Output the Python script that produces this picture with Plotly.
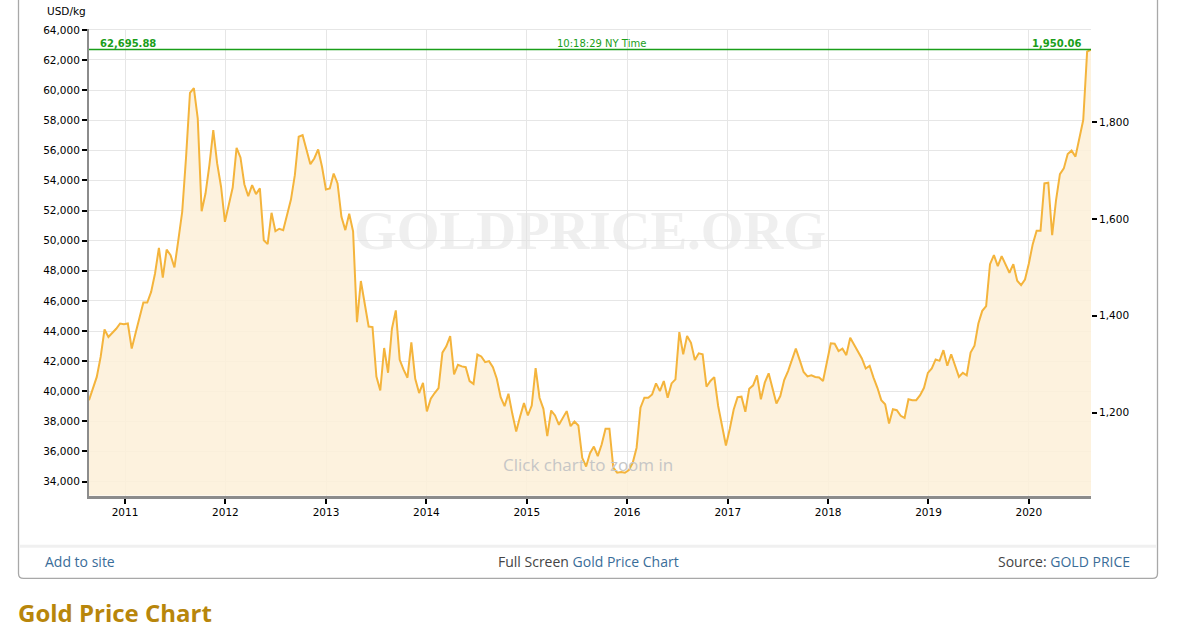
import pandas as pd
import plotly.graph_objects as go

# ---------------- data ----------------
start_date = "2010-08-23"
end_date = "2020-08-14"

price_usd_kg = [
    39400, 40170, 40950, 42280, 44100, 43600, 43870, 44150, 44500, 44450,
    44500, 42830, 43870, 44980, 45890, 45890, 46600, 47820, 49520, 47550,
    49410, 49040, 48220, 50030, 51920, 55570, 59820, 60130, 58120, 51960,
    53130, 55020, 57340, 55130, 53580, 51250, 52470, 53530, 56170, 55530,
    53750, 52960, 53690, 53090, 53470, 50030, 49770, 51850, 50630, 50790,
    50700, 51760, 52730, 54350, 56900, 57010, 56120, 55080, 55460, 56060,
    54910, 53400, 53470, 54460, 53800, 51580, 50700,
    51790, 50620, 44590, 47320, 45810, 44300, 44260, 40980, 40050, 42870,
    41230, 44150, 45370, 42090, 41430, 40900, 43240, 40830, 39880, 40560,
    38660, 39500, 39880, 40210, 42560, 42980, 43660, 41120, 41760, 41650,
    41600, 40670, 40490, 42440, 42310, 41930, 42000, 41600, 40830, 39610,
    39010, 39830, 38500, 37330, 38320, 39210, 38390, 39050, 41540, 39570,
    38830, 37020, 38720, 38390, 37770, 38210, 38680, 37680, 37990, 37730,
    35580, 35000, 35890, 36330,
    35690, 36460, 37510, 37510, 34920, 34590, 34630, 34590, 34760, 35250,
    36250, 38910, 39570, 39570, 39790, 40520, 40010, 40680, 39570, 40520,
    40790, 43930, 42450, 43670, 43220, 42070, 42520, 42450, 40300, 40680,
    40940, 39020, 37580, 36400, 37510, 38790, 39610, 39640, 38640, 40170,
    40390, 41050, 39460, 40570, 41190, 40120, 39190, 39680, 40740, 41340,
    42120, 42830, 42070, 41280, 40990, 41060, 40950, 40910, 40680, 42050,
    43180, 43160, 42670, 42830,
    42400, 43550, 43060, 42570, 42180, 41510, 41690, 40910, 40230, 39410,
    39140, 37860, 38810, 38740, 38370, 38230, 39470, 39410, 39410, 39740,
    40230, 41220, 41510, 42110, 42020, 42730, 41690, 42460, 41670, 40960,
    41220, 41050, 42570, 43020, 44500, 45340, 45650, 48440, 49040, 48310,
    48970, 48420, 47870, 48440, 47340, 47050, 47420, 48490, 49770, 50660,
    50660, 53800, 53850, 50370, 52700, 54420, 54800, 55750, 55980, 55580,
    56910, 58010, 62550, 62695.88,
]

last_price_kg = 62695.88
last_price_oz = 1950.06
ny_time = "10:18:29 NY Time"
oz_per_kg = 32.1507  # troy ounces per kg

left_ticks = list(range(34000, 64001, 2000))
right_ticks = [1200, 1400, 1600, 1800]
year_ticks = [f"{y}-01-01" for y in range(2011, 2021)]
year_labels = [str(y) for y in range(2011, 2021)]

dates = pd.date_range(start_date, end_date, periods=len(price_usd_kg))
price_usd_oz = [v / oz_per_kg for v in price_usd_kg]

# ---------------- layout helpers ----------------
W, H = 1184, 633


def px(x):
    return x / W


def py(y):
    return 1 - y / H


plot_l, plot_r, plot_t, plot_b = 89, 1091, 24, 494.5
y_lo, y_hi = 33070, 64070

line_color = "#f4b43c"
fill_color = "rgba(253,240,216,0.85)"
green = "#1a9e1a"
blue = "#3a6d99"
dark = "#444444"
tick_font = dict(family="DejaVu Sans", size=10.5, color="#000000")

fig = go.Figure()
fig.add_trace(go.Scatter(
    x=dates, y=price_usd_kg, mode="lines",
    line=dict(color=line_color, width=2),
    fill="tozeroy", fillcolor=fill_color,
    hovertemplate="%{x|%b %d, %Y}<br>%{y:,.2f} USD/kg<extra></extra>",
))
fig.add_trace(go.Scatter(
    x=dates, y=price_usd_oz, mode="lines", yaxis="y2",
    line=dict(width=0, color="rgba(0,0,0,0)"), hoverinfo="skip", showlegend=False,
))

fig.update_layout(
    width=W, height=H,
    margin=dict(l=0, r=0, t=0, b=0),
    paper_bgcolor="white", plot_bgcolor="white",
    showlegend=False,
    font=dict(family="DejaVu Sans", size=10.5, color="#000000"),
    xaxis=dict(
        domain=[px(plot_l), px(plot_r)],
        type="date",
        range=[dates[0], dates[-1]],
        tickvals=year_ticks, ticktext=year_labels,
        ticks="outside", ticklen=5, tickwidth=2, tickcolor="#000000",
        showline=True, linecolor="#8c8c8c", linewidth=3,
        showgrid=True, gridcolor="#e6e6e6", gridwidth=1,
        zeroline=False, anchor="y",
        tickfont=tick_font,
    ),
    yaxis=dict(
        domain=[py(plot_b), py(plot_t)],
        range=[y_lo, y_hi],
        tickvals=left_ticks, tickformat=",d",
        ticks="outside", ticklen=5, tickwidth=2, tickcolor="#000000",
        showline=True, linecolor="#8c8c8c", linewidth=2,
        showgrid=True, gridcolor="#e6e6e6", gridwidth=1,
        zeroline=False,
        tickfont=tick_font,
    ),
    yaxis2=dict(
        overlaying="y", side="right", anchor="x",
        range=[y_lo / oz_per_kg, y_hi / oz_per_kg],
        tickvals=right_ticks, tickformat=",d",
        ticks="outside", ticklen=5, tickwidth=2, tickcolor="#000000",
        showline=False, showgrid=False, zeroline=False,
        tickfont=tick_font,
    ),
)

# last-price line
fig.add_shape(type="line", xref="paper", yref="y",
              x0=px(plot_l), x1=px(plot_r), y0=last_price_kg, y1=last_price_kg,
              line=dict(color=green, width=1.3))

# outer frame (top edge runs off the page)
fl, fr, fb, ft, rr = 18.5, 1157.5, 578, -10, 5
frame_path = (
    f"M {px(fl)} {py(ft)} L {px(fl)} {py(fb - rr)} "
    f"Q {px(fl)} {py(fb)} {px(fl + rr)} {py(fb)} "
    f"L {px(fr - rr)} {py(fb)} Q {px(fr)} {py(fb)} {px(fr)} {py(fb - rr)} "
    f"L {px(fr)} {py(ft)}"
)
fig.add_shape(type="path", xref="paper", yref="paper", path=frame_path,
              line=dict(color="#a8a8a8", width=1.3), layer="below")
# footer separator
fig.add_shape(type="line", xref="paper", yref="paper",
              x0=px(20), x1=px(1156), y0=py(545.5), y1=py(545.5),
              line=dict(color="#f0f0f0", width=3))

ann = []
ann.append(dict(x=px(45), y=py(6), text="USD/kg", xanchor="left", yanchor="middle",
                font=dict(family="DejaVu Sans", size=10.5, color="#000000")))
ann.append(dict(x=px(98), y=py(38.5), text=f"<b>{last_price_kg:,.2f}</b>", xanchor="left",
                yanchor="middle", font=dict(family="DejaVu Sans", size=10, color=green)))
ann.append(dict(x=px(601), y=py(38.5), text=ny_time, xanchor="center", yanchor="middle",
                font=dict(family="DejaVu Sans", size=10, color=green)))
ann.append(dict(x=px(1083), y=py(38.5), text=f"<b>{last_price_oz:,.2f}</b>", xanchor="right",
                yanchor="middle", font=dict(family="DejaVu Sans", size=10, color=green)))
ann.append(dict(x=px(590), y=py(227), text="<b>GOLDPRICE.ORG</b>", xanchor="center",
                yanchor="middle",
                font=dict(family="Liberation Serif", size=55, color="rgba(225,225,225,0.55)")))
ann.append(dict(x=px(588), y=py(463), text="Click chart to zoom in", xanchor="center",
                yanchor="middle", font=dict(family="Open Sans", size=17, color="#c6c6c6")))
ann.append(dict(x=px(43), y=py(560.5), text="Add to site", xanchor="left", yanchor="middle",
                font=dict(family="Open Sans", size=14, color=blue)))
ann.append(dict(x=px(588), y=py(560.5),
                text=f"Full Screen <span style='color:{blue}'>Gold Price Chart</span>",
                xanchor="center", yanchor="middle",
                font=dict(family="Open Sans", size=14, color=dark)))
ann.append(dict(x=px(1132), y=py(560.5),
                text=f"Source: <span style='color:{blue}'>GOLD PRICE</span>",
                xanchor="right", yanchor="middle",
                font=dict(family="Open Sans", size=14, color=dark)))
ann.append(dict(x=px(16), y=py(612), text="<b>Gold Price Chart</b>", xanchor="left",
                yanchor="middle", font=dict(family="Open Sans", size=24, color="#b8860b")))
for a in ann:
    a.update(xref="paper", yref="paper", showarrow=False)
fig.update_layout(annotations=ann)

fig.write_html("out.html", config={"displayModeBar": False},
               post_script="document.body.style.margin='0';")
